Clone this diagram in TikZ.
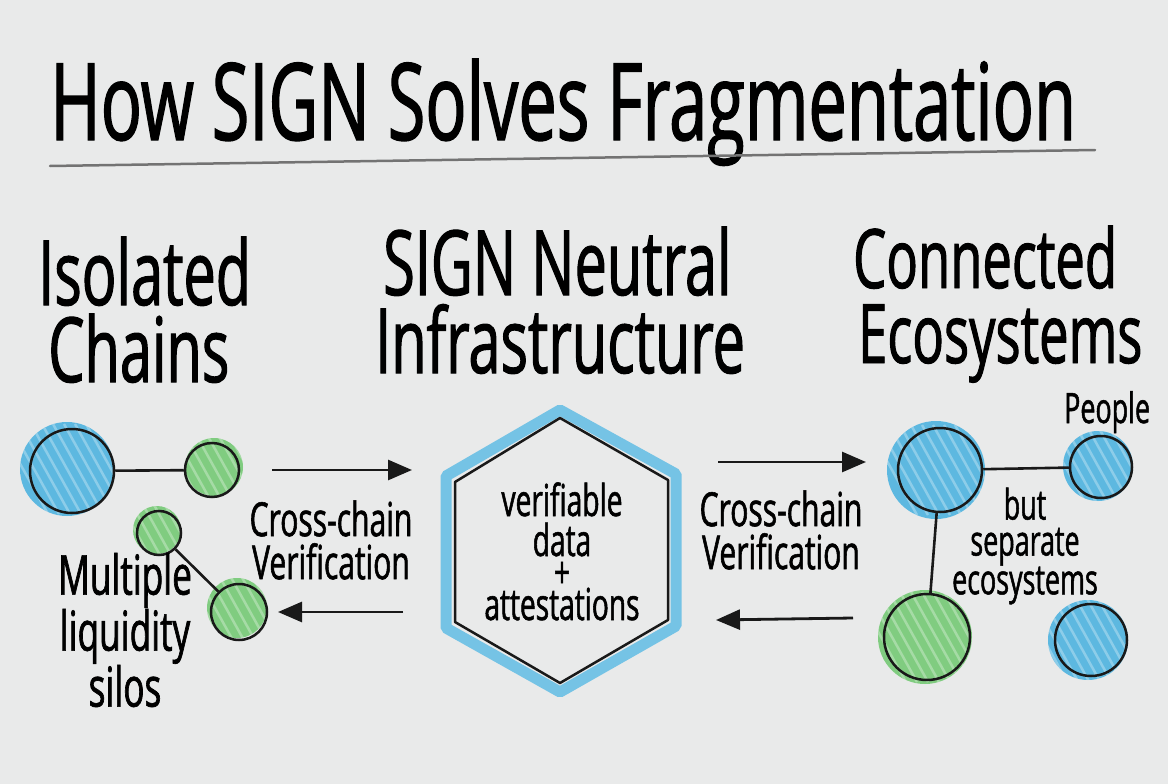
\documentclass[tikz,border=0pt]{standalone}
\usepackage{fontspec}
\setmainfont[FakeStretch=0.64, FakeBold=1.2]{Open Sans}
\usetikzlibrary{positioning,arrows.meta,calc}
\definecolor{board}{HTML}{E9EAEA}
\definecolor{mkblue}{HTML}{5DB8E0}
\definecolor{mkgreen}{HTML}{80CC80}

\begin{document}
\begin{tikzpicture}[x=1pt, y=-1pt,
  ring/.style={circle, draw=black!90, line width=2.5pt, inner sep=0pt},
  blob/.style={circle, inner sep=0pt, path picture={
      \foreach \k in {-4,...,4}
        \draw[white, opacity=0.3, line width=2.5pt]
          ($(path picture bounding box.center)+(\k*11-25,-45)$) -- ++(50,90);}},
  link/.style={line width=2.6pt, black!90},
  flow/.style={line width=2.8pt, black!90, -{Triangle[length=24pt,width=20pt]}},
  head/.style={font=\fontsize{90}{78}\selectfont, anchor=base west, inner sep=0pt},
  lbl/.style={font=\fontsize{47}{43}\selectfont, align=center, inner sep=0pt},
  hexlbl/.style={font=\fontsize{44}{40}\selectfont, inner sep=0pt, anchor=base}]
\fill[board] (0,0) rectangle (1168,784);
\useasboundingbox (0,0) rectangle (1168,784);

% title
\node[anchor=base west, inner sep=0pt, font=\fontsize{107}{110}\selectfont] (title) at (50,140) {How SIGN Solves Fragmentation};
\draw[black!55, line width=2.5pt, line cap=round] (50,166) -- (1095,150);

% column headings
\node[head] (isoA) at (38,305) {Isolated};
\node[head] (isoB) at (48,382) {Chains};
\node[head] (neuA) at (383,295) {SIGN Neutral};
\node[head] (neuB) at (375,373) {Infrastructure};
\node[head, font=\fontsize{82}{78}\selectfont] (conA) at (853,288) {Connected};
\node[head, font=\fontsize{82}{78}\selectfont] (conB) at (858,363) {Ecosystems};

% isolated chains
\node[blob, fill=mkblue, minimum size=94pt] at (67,469) {};
\node[blob, fill=mkgreen, minimum size=58pt] at (214,467) {};
\node[blob, fill=mkgreen, minimum size=48pt] at (157,530) {};
\node[blob, fill=mkgreen, minimum size=60pt] at (237,608) {};
\node[ring, minimum size=84pt] (bigA) at (72,471) {};
\node[ring, minimum size=54pt] (smA) at (212,470) {};
\node[ring, minimum size=44pt] (smB) at (159,533) {};
\node[ring, minimum size=56pt] (smC) at (239,612) {};
\draw[link] (bigA) -- (smA);
\draw[link] (smB) -- (smC);
\node[lbl, font=\fontsize{55}{52}\selectfont] (silo) at (125,630) {Multiple\\liquidity\\silos};

% neutral infrastructure
\draw[mkblue!85, line width=11pt, line join=bevel] (560,410) -- (676,474) -- (676,626) -- (560,692)
  -- (446,628) -- (446,476) -- cycle;
\draw[black!90, line width=2.5pt, line join=round] (560,418) -- (668,480) -- (668,620) -- (560,683)
  -- (455,622) -- (455,482) -- cycle;
\node[hexlbl] (hexA) at (562,516) {verifiable};
\node[hexlbl] (hexB) at (562,556) {data};
\node[hexlbl] (hexC) at (562,588) {+};
\node[hexlbl] (hexD) at (562,620) {attestations};

% arrows in and out
\coordinate (inL) at (272,470);
\coordinate (inH) at (412,470);
\coordinate (outH) at (403,612);
\coordinate (outL) at (278,612);
\coordinate (inH2) at (718,462);
\coordinate (inR) at (866,462);
\coordinate (outR) at (853,618);
\coordinate (outH2) at (716,620);
\draw[flow] (inL) -- (inH);
\draw[flow] (outH) -- (outL);
\draw[flow] (inH2) -- (inR);
\draw[flow] (outR) -- (outH2);
\node[lbl] (crossL) at (331,540) {Cross-chain\\Verification};
\node[lbl] (crossR) at (781,530) {Cross-chain\\Verification};

% connected ecosystems
\node[blob, fill=mkblue, minimum size=98pt] at (936,470) {};
\node[blob, fill=mkblue, minimum size=70pt] at (1098,466) {};
\node[blob, fill=mkgreen, minimum size=94pt] at (925,637) {};
\node[blob, fill=mkblue, minimum size=80pt] at (1088,640) {};
\node[ring, minimum size=84pt] (hubR) at (940,470) {};
\node[ring, minimum size=62pt] (pplR) at (1101,467) {};
\node[ring, minimum size=86pt] (grnR) at (927,637) {};
\node[ring, minimum size=72pt] (bluR) at (1091,640) {};
\draw[link] (hubR) -- (pplR);
\draw[link] (hubR) -- (grnR);
\node[lbl, anchor=base west, font=\fontsize{42}{38}\selectfont] (ppl) at (1064,423) {People};
\node[lbl, font=\fontsize{42}{36}\selectfont] (sep) at (1025,546) {but\\separate\\ecosystems};
\end{tikzpicture}
\end{document}
